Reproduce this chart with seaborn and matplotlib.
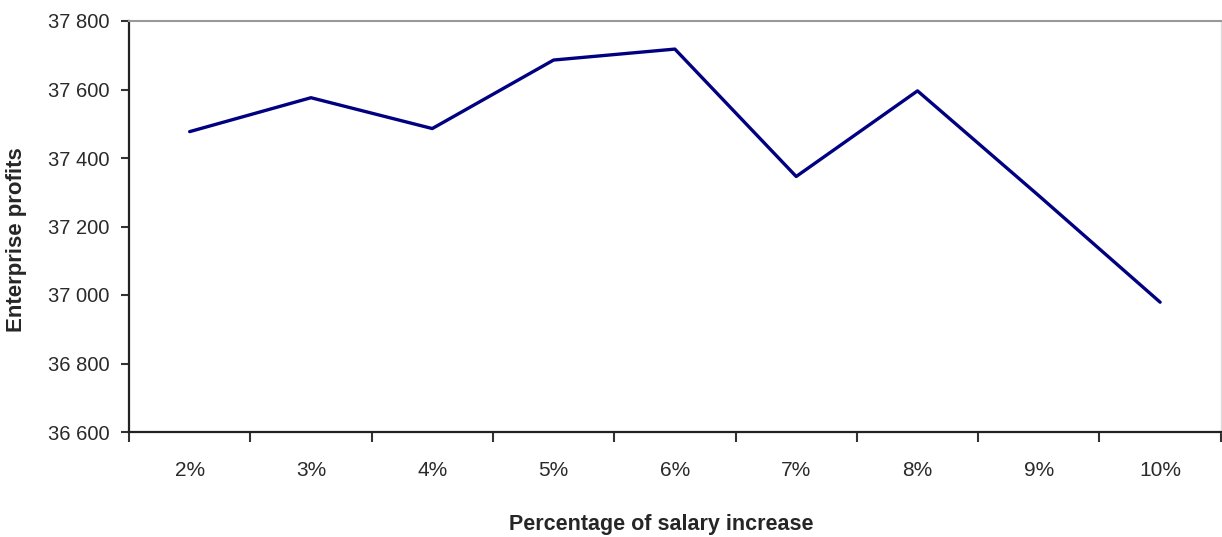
import numpy as np
import pandas as pd
import matplotlib.pyplot as plt
import seaborn as sns
from matplotlib.ticker import FuncFormatter

categories = ['2%', '3%', '4%', '5%', '6%', '7%', '8%', '9%', '10%']
profits = [37477, 37576, 37486, 37686, 37718, 37346, 37596, 37290, 36979]

df = pd.DataFrame({'pos': np.arange(len(categories)), 'profit': profits})

sns.set_style("ticks")
plt.rcParams['font.family'] = ['Liberation Sans', 'DejaVu Sans']

fig = plt.figure(figsize=(12.22, 5.37), dpi=100)
ax = fig.add_axes([129 / 1222, 1 - 432 / 537, 1 - 129 / 1222 - 0.001, (432 - 21) / 537])

sns.lineplot(data=df, x='pos', y='profit', ax=ax, color='#000080', linewidth=2.4)

ax.set_xlim(-0.5, len(categories) - 0.5)
ax.set_ylim(36600, 37800)
ax.set_yticks(np.arange(36600, 37801, 200))
ax.yaxis.set_major_formatter(FuncFormatter(lambda v, p: f"{int(v):,}".replace(',', ' ')))

# category labels centred, tick marks on the boundaries
ax.set_xticks(np.arange(len(categories)))
ax.set_xticklabels(categories)
ax.set_xticks(np.arange(len(categories) + 1) - 0.5, minor=True)
ax.tick_params(axis='x', which='major', length=0, pad=21, labelsize=15, labelcolor='#2a2a2a')
ax.tick_params(axis='x', which='minor', length=7, width=1.5, color='#333333', direction='out')
ax.tick_params(axis='y', length=6, width=1.5, color='#333333', labelsize=14.5,
               labelcolor='#2a2a2a', pad=8)

for s in ['left', 'bottom']:
    ax.spines[s].set_color('#222222')
    ax.spines[s].set_linewidth(1.6)
ax.spines['top'].set_color('#999999')
ax.spines['top'].set_linewidth(1.5)
ax.spines['right'].set_color('#dddddd')
ax.spines['right'].set_linewidth(1.0)

ax.set_xlabel('Percentage of salary increase', fontsize=15.5, fontweight='bold')
ax.set_ylabel('Enterprise profits', fontsize=16, fontweight='bold')
ax.xaxis.set_label_coords(0.4877, -0.20)
ax.yaxis.set_label_coords(-0.093, 0.467)

fig.savefig('out.png', dpi=100)
